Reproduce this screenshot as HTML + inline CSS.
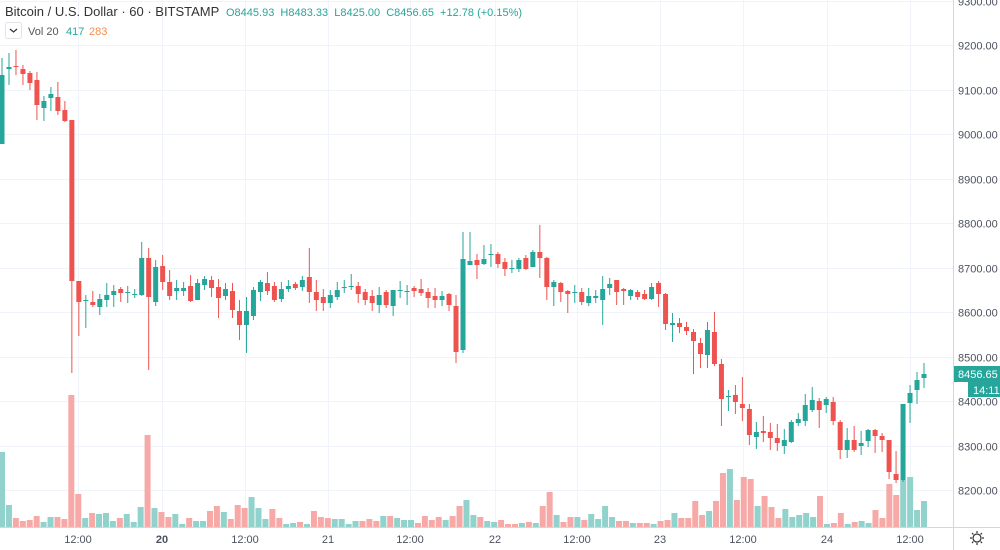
<!DOCTYPE html>
<html><head><meta charset="utf-8"><style>
html,body{margin:0;padding:0;background:#fff;}
#w{position:relative;width:1000px;height:550px;overflow:hidden;font-family:"Liberation Sans",sans-serif;}
svg{position:absolute;left:0;top:0;}
</style></head><body><div id="w">
<svg id="s" width="1000" height="550" xmlns="http://www.w3.org/2000/svg">
<g id="grid"></g><g id="vol"></g><g id="cand"></g>
<line x1="953.5" y1="0" x2="953.5" y2="550" stroke="#d6d6d6"/>
<line x1="0" y1="527.5" x2="1000" y2="527.5" stroke="#d6d6d6"/>
<g font-size="11" fill="#4c525e" id="plab"></g>
<g font-size="11" fill="#4c525e" text-anchor="middle">
<text x="78" y="543">12:00</text><text x="162" y="543" font-weight="bold">20</text>
<text x="245" y="543">12:00</text><text x="328" y="543">21</text>
<text x="410" y="543">12:00</text><text x="495" y="543">22</text>
<text x="577" y="543">12:00</text><text x="660" y="543">23</text>
<text x="743" y="543">12:00</text><text x="827" y="543">24</text>
<text x="910" y="543">12:00</text>
</g>
<rect x="954" y="366" width="46" height="16" fill="#26a69a"/>
<text x="958" y="378" font-size="11" fill="#fff">8456.65</text>
<rect x="968" y="382" width="32" height="15" fill="#26a69a"/>
<text x="973" y="394" font-size="11" fill="#fff">14:11</text>
<g transform="translate(977,538)" stroke="#333" fill="none" stroke-width="1.2">
<circle r="4"/><path d="M0-7V-5M0 5V7M-7 0H-5M5 0H7M-5-5L-3.6-3.6M3.6 3.6L5 5M-5 5L-3.6 3.6M3.6-3.6L5-5"/></g>
<text x="5" y="16" font-size="13" fill="#333">Bitcoin / U.S. Dollar · 60 · BITSTAMP</text>
<text x="226" y="16" font-size="11" fill="#26a69a">O8445.93 &#160;H8483.33 &#160;L8425.00 &#160;C8456.65 &#160;+12.78 (+0.15%)</text>
<rect x="5.5" y="22.5" width="16" height="16" fill="#fff" stroke="#e0e3eb" rx="2"/>
<path d="M10 29l3.5 3 3.5-3" stroke="#333" fill="none" stroke-width="1.2"/>
<text x="28" y="35" font-size="11" fill="#555">Vol 20</text>
<text x="66" y="35" font-size="11" fill="#26a69a">417</text>
<text x="89" y="35" font-size="11" fill="#f68d4a">283</text>
</svg>
</div>
<script>
const NS="http://www.w3.org/2000/svg";
function el(p,t,a){const e=document.createElementNS(NS,t);for(const k in a)e.setAttribute(k,a[k]);p.appendChild(e);return e;}
const g=document.getElementById('grid'),pl=document.getElementById('plab');
for(let i=0;i<=11;i++){const y=0.5+Math.round(45+(i-1)*44.5);if(y<527)el(g,'line',{x1:0,x2:953,y1:y,y2:y,stroke:'#f0f3fa'});
 const t=el(pl,'text',{x:958,y:y+4});t.textContent=(9300-i*100)+'.00';}
[78,162,245,328,410,495,577,660,743,827,910].forEach(x=>el(g,'line',{x1:x+.5,x2:x+.5,y1:0,y2:527,stroke:'#f0f3fa'}));
// candles: [top body y, bottom body y, wick top, wick bottom, color t/r]
const C=[
[75,144,58,144,'t'],[67,69,53,85,'t'],[66,67,50,75,'r'],[69,74,65,85,'r'],[73,83,71,90,'r'],[80,105,72,120,'r'],[101,108,96,121,'t'],[94,98,87,111,'t'],[97,111,82,115,'r'],[110,121,101,122,'r'],
[120,281,120,373,'r'],[281,302,281,336,'r'],[300,301,295,328,'t'],[302,305,291,307,'r'],[299,307,294,315,'t'],[295,300,283,307,'t'],[291,295,285,307,'t'],[289,293,287,302,'r'],[292,293,286,303,'t'],[294,295,289,298,'t'],
[258,295,242,296,'t'],[258,297,248,370,'r'],[267,302,260,306,'t'],[266,282,255,290,'r'],[282,296,270,300,'r'],[288,291,280,300,'t'],[288,291,282,296,'t'],[286,301,275,302,'r'],[283,300,279,300,'t'],[279,285,276,290,'t'],
[280,288,276,297,'r'],[287,298,279,318,'r'],[289,296,283,300,'t'],[291,310,283,318,'r'],[311,325,300,340,'r'],[311,325,297,353,'t'],[290,316,287,320,'t'],[282,292,280,301,'t'],[283,291,272,295,'r'],[286,300,282,302,'r'],
[289,299,282,302,'t'],[286,289,280,292,'t'],[284,288,282,290,'r'],[280,287,276,291,'t'],[277,292,248,303,'r'],[292,300,280,311,'r'],[297,303,289,311,'r'],[295,303,290,308,'t'],[290,297,282,300,'t'],[287,288,280,293,'t'],
[286,287,274,290,'t'],[286,294,282,303,'r'],[292,300,289,305,'r'],[296,303,290,311,'r'],[295,305,287,313,'t'],[292,305,290,308,'r'],[290,306,290,316,'t'],[290,291,281,298,'t'],[291,292,285,305,'t'],[288,291,286,297,'r'],
[289,293,279,296,'r'],[292,298,288,308,'r'],[296,300,288,308,'r'],[296,300,291,306,'t'],[294,305,293,311,'r'],[306,352,295,363,'r'],[259,350,232,353,'t'],[261,265,232,265,'t'],[260,265,254,279,'r'],[259,264,245,265,'t'],
[254,255,244,267,'t'],[254,264,252,268,'r'],[262,269,258,276,'r'],[268,269,260,273,'t'],[260,269,258,272,'t'],[258,269,255,270,'r'],[252,267,250,267,'t'],[252,258,225,278,'r'],[258,287,257,300,'r'],[282,287,280,306,'t'],
[283,292,282,302,'r'],[291,294,290,313,'r'],[292,293,285,303,'t'],[292,302,288,305,'r'],[296,303,288,306,'t'],[296,298,290,303,'t'],[289,300,276,325,'t'],[284,288,278,295,'t'],[280,292,280,305,'r'],[289,291,288,305,'r'],
[290,296,289,300,'t'],[292,297,290,300,'r'],[294,299,290,300,'r'],[287,299,283,300,'t'],[283,294,281,307,'r'],[294,324,293,330,'r'],[323,325,313,342,'t'],[323,327,318,333,'r'],[327,331,322,335,'r'],[332,341,329,374,'r'],
[343,354,338,368,'r'],[330,355,322,368,'t'],[332,364,312,366,'r'],[364,399,359,426,'r'],[396,397,390,411,'t'],[395,402,385,414,'r'],[404,408,377,421,'r'],[409,435,404,445,'r'],[432,437,422,449,'t'],[431,433,416,442,'r'],
[432,438,423,450,'r'],[438,443,424,451,'r'],[440,446,429,454,'t'],[422,442,420,443,'t'],[419,423,413,426,'t'],[405,421,394,426,'t'],[400,410,387,412,'t'],[401,410,398,428,'r'],[399,405,397,413,'t'],[402,421,397,425,'r'],
[422,450,420,459,'r'],[440,450,428,458,'t'],[440,450,426,452,'r'],[443,446,431,455,'t'],[430,441,429,447,'t'],[430,436,429,453,'r'],[436,440,433,452,'r'],[440,472,440,479,'r'],[474,480,451,483,'r'],[404,480,404,482,'t'],
[393,403,385,423,'t'],[380,390,372,404,'t'],[374,378,363,388,'t']];
const cg=document.getElementById('cand');const n=C.length;const st=922/(n-1);
C.forEach((c,i)=>{const x=924-(n-1-i)*st;const col=c[4]=='t'?'#26a69a':'#ef5350';
 el(cg,'line',{x1:x,x2:x,y1:c[2],y2:c[3],stroke:col,'stroke-width':1});
 el(cg,'rect',{x:x-2.5,y:c[0],width:5,height:Math.max(1,c[1]-c[0]),fill:col});});
const V=[[452,'t'],[505,'t'],[518,'r'],[521,'r'],[520,'r'],[516,'r'],[522,'t'],[517,'t'],[517,'r'],[519,'r'],[395,'r'],[494,'r'],[518,'t'],[513,'r'],[514,'t'],[513,'t'],[521,'t'],[518,'r'],[514,'t'],[522,'t'],
[507,'t'],[435,'r'],[508,'t'],[512,'r'],[517,'r'],[514,'t'],[524,'t'],[518,'r'],[521,'t'],[521,'t'],[511,'r'],[506,'r'],[512,'t'],[519,'r'],[505,'r'],[508,'r'],[497,'t'],[508,'t'],[519,'t'],[509,'r'],
[518,'r'],[524,'t'],[523,'t'],[522,'r'],[524,'t'],[511,'r'],[517,'r'],[518,'r'],[519,'t'],[519,'t'],[524,'t'],[521,'t'],[521,'r'],[519,'r'],[521,'r'],[516,'t'],[516,'r'],[518,'t'],[520,'t'],[520,'t'],
[523,'r'],[516,'r'],[520,'r'],[517,'r'],[520,'t'],[516,'r'],[506,'r'],[500,'t'],[515,'t'],[517,'r'],[521,'t'],[522,'t'],[520,'r'],[524,'r'],[524,'r'],[523,'t'],[522,'r'],[523,'t'],[506,'r'],[492,'r'],
[515,'t'],[522,'r'],[517,'r'],[517,'t'],[520,'r'],[514,'t'],[519,'t'],[506,'t'],[517,'t'],[521,'r'],[521,'r'],[523,'t'],[523,'r'],[523,'r'],[524,'t'],[521,'r'],[520,'r'],[513,'t'],[518,'r'],[518,'r'],
[501,'r'],[515,'r'],[511,'t'],[501,'r'],[473,'r'],[469,'t'],[500,'r'],[477,'r'],[479,'r'],[506,'t'],[496,'r'],[507,'r'],[518,'r'],[509,'t'],[517,'t'],[515,'t'],[513,'t'],[517,'t'],[496,'r'],[524,'t'],
[523,'r'],[513,'r'],[524,'t'],[522,'r'],[521,'t'],[523,'t'],[510,'r'],[518,'r'],[484,'r'],[495,'r'],[480,'t'],[477,'t'],[510,'t'],[501,'t']];
const vg=document.getElementById('vol');const m=V.length;const vs=922/(m-1);
V.forEach((v,i)=>{const x=924-(m-1-i)*vs;el(vg,'rect',{x:x-3,y:v[0],width:6,height:527-v[0],fill:v[1]=='t'?'#92d2cc':'#f7a9a7'});});
</script></body></html>
